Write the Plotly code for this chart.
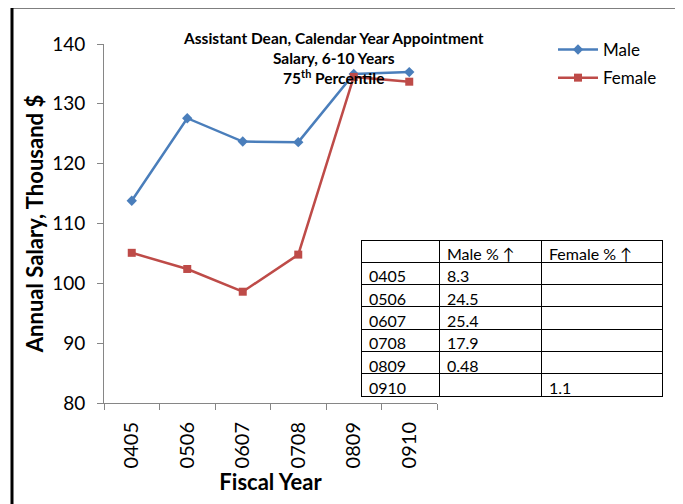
import plotly.graph_objects as go

years = ["0405", "0506", "0607", "0708", "0809", "0910"]
male = [113.8, 127.6, 123.7, 123.6, 135.0, 135.3]
female = [105.1, 102.4, 98.6, 104.8, 134.5, 133.7]

table_header = ["", "Male % \u2191", "Female % \u2191"]
male_pct = ["8.3", "24.5", "25.4", "17.9", "0.48", ""]
female_pct = ["", "", "", "", "", "1.1"]

FONT = "Lato, Carlito, Calibri, sans-serif"
BLUE = "#4A7EBB"
RED = "#BE4B48"
AXIS = "#868686"

# page body has an 8px margin, so positions below are screen pixels shifted by OFF
OFF = 8
W, H = 683, 504
ML, MR, MT, MB = 104 - OFF, 21 + OFF, 44 - OFF, 101 + OFF
pw = W - ML - MR
ph = H - MT - MB


def px_x(x):
    return (x - OFF - ML) / pw


def px_y(y):
    return (H - MB - (y - OFF)) / ph


fig = go.Figure()

fig.add_trace(go.Scatter(
    x=years, y=male, name="Male", mode="lines+markers", legendgroup="m",
    line=dict(color=BLUE, width=2.5),
    marker=dict(symbol="diamond", size=8, color=BLUE),
))
fig.add_trace(go.Scatter(
    x=years, y=female, name="Female", mode="lines+markers", legendgroup="f",
    line=dict(color=RED, width=2.5),
    marker=dict(symbol="square", size=8, color=RED),
))

# data table inside the chart
fig.add_trace(go.Table(
    domain=dict(x=[px_x(361), 1.0], y=[px_y(399), px_y(240)]),
    columnwidth=[78, 102, 121],
    header=dict(values=table_header, align="left", height=22.3,
                line=dict(color="black", width=1), fill=dict(color="white"),
                font=dict(family=FONT, size=16, color="black")),
    cells=dict(values=[years, male_pct, female_pct], align="left", height=22.3,
               line=dict(color="black", width=1), fill=dict(color="white"),
               font=dict(family=FONT, size=16, color="black")),
))

fig.update_layout(
    width=W, height=H,
    margin=dict(l=ML, r=MR, t=MT, b=MB),
    paper_bgcolor="white", plot_bgcolor="white",
    font=dict(family=FONT, color="black"),
    showlegend=True,
    legend=dict(x=px_x(553), y=px_y(32), xanchor="left", yanchor="top",
                font=dict(size=17), bgcolor="rgba(0,0,0,0)",
                itemwidth=40, tracegroupgap=3),
    xaxis=dict(
        domain=[0, (437 - OFF - ML) / pw], type="category", range=[-0.5, 5.5],
        showline=True, linecolor=AXIS, linewidth=1,
        ticks="outside", tickson="boundaries", ticklen=6, tickcolor=AXIS,
        tickangle=-90, tickfont=dict(size=20), ticklabelstandoff=10, showgrid=False,
        title=dict(text="<b>Fiscal Year</b>", font=dict(size=22), standoff=6),
    ),
    yaxis=dict(
        range=[80, 140], dtick=10, showline=True, linecolor=AXIS, linewidth=1,
        ticks="outside", ticklen=6, tickcolor=AXIS, tickfont=dict(size=19),
        ticklabelstandoff=8, showgrid=False, zeroline=False,
        title=dict(text="<b>Annual Salary, Thousand $</b>", font=dict(size=22), standoff=2),
    ),
    annotations=[dict(
        text="<b>Assistant Dean, Calendar Year Appointment<br>Salary, 6-10 Years<br>75<sup>th</sup> Percentile</b>",
        xref="paper", yref="paper", x=px_x(333), y=px_y(27),
        xanchor="center", yanchor="top", showarrow=False, align="center",
        font=dict(size=15.5, color="black"),
    )],
    shapes=[dict(type="rect", xref="paper", yref="paper",
                 x0=px_x(12), x1=px_x(678), y0=px_y(540), y1=px_y(7),
                 line=dict(color="black", width=3), layer="below")],
)

fig.write_html("out.html")
